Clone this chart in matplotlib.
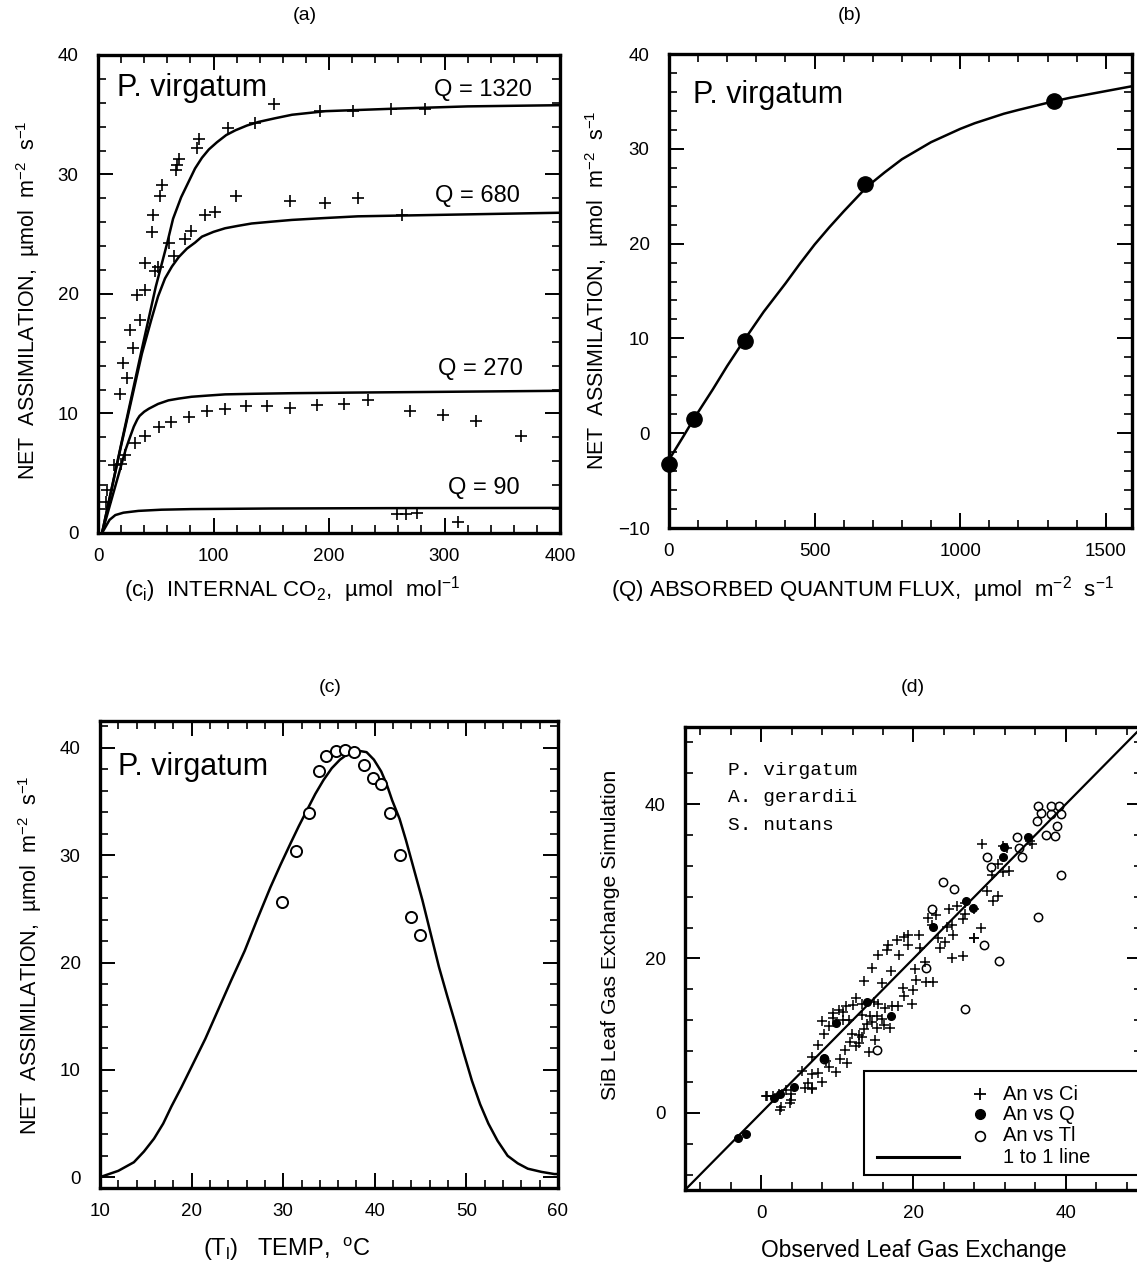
import matplotlib
matplotlib.use("Agg")
import matplotlib.pyplot as plt
from matplotlib.ticker import MultipleLocator
from matplotlib.patches import Rectangle
from matplotlib.lines import Line2D

plt.rcParams['font.family'] = ['Liberation Sans', 'DejaVu Sans']
plt.rcParams['mathtext.fontset'] = 'custom'
plt.rcParams['mathtext.rm'] = 'Liberation Sans'
plt.rcParams['mathtext.it'] = 'Liberation Sans:italic'
plt.rcParams['mathtext.bf'] = 'Liberation Sans:bold'

# ---------------- Panel (a): A vs internal CO2 ----------------
a_obs_ci = [152.7, 192.5, 220.5, 253.6, 283, 136, 112.4, 87.6, 85.9, 70.3,
            68, 67.4, 55.3, 53.6, 47.3, 46.7, 61.7, 65.4, 40.9, 49.6,
            52.0, 40.9, 33.7, 36.6, 27.4, 30, 21.3, 25.1, 19.3, 13.5,
            20.2, 7.8, 6.9,
            92.8, 101.4, 119.3, 166.3, 196.5, 224.8, 262.8, 80.7, 75.5,
            23.6, 31.7, 40.3, 52.4, 63.1, 78.4, 94.2, 110.1, 128, 146,
            166.6, 189.6, 213.3, 234, 270, 298.8, 327.7, 366.6,
            258.5, 266.3, 275.8, 311.8]
a_obs_A = [35.9, 35.3, 35.3, 35.5, 35.5, 34.3, 33.9, 33.0, 32.2, 31.3,
           30.8, 30.4, 29.1, 28.2, 26.6, 25.2, 24.3, 23.2, 22.6, 21.9,
           22.3, 20.3, 19.9, 17.8, 17.0, 15.5, 14.2, 13.0, 11.6, 5.7,
           5.8, 3.6, 2.6,
           26.6, 26.9, 28.2, 27.8, 27.6, 28.0, 26.6, 25.3, 24.6,
           6.5, 7.5, 8.1, 8.9, 9.3, 9.7, 10.2, 10.4, 10.6, 10.6,
           10.5, 10.7, 10.8, 11.1, 10.2, 9.9, 9.4, 8.1,
           1.6, 1.6, 1.65, 0.95]

ci_q1320 = [3.5, 20, 38, 50, 60, 65, 72, 78, 84, 90, 96, 103, 111, 119, 129, 139, 153, 168, 197, 254, 320, 400]
A_q1320 = [0, 7.4, 15.4, 20.6, 24.3, 26.3, 28.1, 29.3, 30.5, 31.4, 32.1, 32.7, 33.3, 33.7, 34.1, 34.4, 34.7, 35.0, 35.3, 35.5, 35.7, 35.8]
ci_q680 = [3.5, 20, 38, 46, 52, 58, 64, 70, 77, 84, 90, 100, 110, 121, 133, 150, 168, 195, 225, 283, 400]
A_q680 = [0, 7.3, 15.0, 17.8, 19.8, 21.3, 22.3, 23.1, 23.8, 24.3, 24.8, 25.2, 25.5, 25.7, 25.9, 26.05, 26.2, 26.35, 26.5, 26.6, 26.8]
ci_q270 = [3.5, 24, 28, 31, 34, 36, 40, 44, 52, 61, 70, 81, 95, 110, 135, 168, 220, 283, 400]
A_q270 = [0, 7.0, 8.1, 8.9, 9.5, 9.8, 10.15, 10.4, 10.8, 11.1, 11.25, 11.4, 11.5, 11.6, 11.65, 11.7, 11.75, 11.8, 11.9]
ci_q90 = [3.5, 10, 15, 22, 35, 55, 81, 150, 250, 400]
A_q90 = [0, 1.1, 1.5, 1.7, 1.85, 1.95, 2.0, 2.05, 2.08, 2.1]
q_labels = ["Q = 1320", "Q = 680", "Q = 270", "Q = 90"]

# ---------------- Panel (b): A vs absorbed quantum flux ----------------
b_obs_Q = [0, 87, 262, 672, 1322]
b_obs_A = [-3.3, 1.5, 9.7, 26.3, 35.0]
b_curve_Q = [0, 50, 87, 150, 200, 260, 325, 400, 450, 500, 550, 600, 640, 680, 740, 800,
             850, 900, 950, 1000, 1050, 1100, 1150, 1200, 1260, 1320, 1380, 1450, 1520, 1590]
b_curve_A = [-2.8, -0.3, 1.6, 4.6, 7.1, 9.9, 12.8, 15.8, 17.9, 19.9, 21.7, 23.4, 24.7, 26.0,
             27.5, 28.9, 29.8, 30.7, 31.4, 32.1, 32.7, 33.2, 33.7, 34.1, 34.55, 35.0, 35.4,
             35.8, 36.2, 36.6]

# ---------------- Panel (c): A vs leaf temperature ----------------
c_obs_T = [29.9, 31.4, 32.8, 33.9, 34.7, 35.8, 36.8, 37.7, 38.8, 39.8, 40.7, 41.7, 42.8, 43.9, 44.9]
c_obs_A = [25.6, 30.4, 33.9, 37.8, 39.2, 39.7, 39.8, 39.6, 38.4, 37.2, 36.6, 33.9, 30.0, 24.2, 22.6]
c_curve_T = [10.0, 10.3, 12.0, 13.7, 14.8, 15.9, 16.9, 17.8, 18.9, 20.0, 21.5, 22.9, 24.3, 25.8,
             27.2, 28.6, 29.7, 30.8, 31.7, 32.6, 33.5, 34.4, 35.3, 36.2, 37.0, 37.6, 38.4,
             39.1, 39.9, 40.7, 41.3, 41.9, 42.7, 43.4, 44.3, 45.2, 46.1, 47.0, 47.9, 48.8,
             49.7, 50.6, 51.5, 52.4, 53.4, 54.5, 55.6, 56.7, 58.2, 59.6, 60.0]
c_curve_A = [0.0, 0.1, 0.6, 1.4, 2.4, 3.6, 5.0, 6.6, 8.4, 10.3, 12.9, 15.6, 18.3, 21.1,
             24.1, 27.0, 29.1, 31.1, 32.7, 34.2, 35.7, 37.0, 38.1, 38.9, 39.4, 39.6, 39.7,
             39.6, 38.9, 37.8, 36.6, 35.1, 33.4, 31.4, 28.6, 25.8, 22.7, 19.6, 16.9, 14.3,
             11.6, 9.0, 6.8, 5.0, 3.4, 2.0, 1.3, 0.8, 0.5, 0.3, 0.3]

# ---------------- Panel (d): simulated vs observed ----------------
d_ci_obs = [24.6, 25.7, 26.7, 26.7, 26.5, 28.0, 21.9, 23.0, 22.4, 24.4,
            25.1, 25.2, 23.2, 24.1, 23.5, 20.9, 19.3, 18.8, 17.8, 20.7,
            19.3, 16.7, 16.5, 15.4, 18.1, 14.6, 17.0, 20.2, 21.5, 20.3,
            21.7, 22.6, 18.6, 20.0, 18.8, 19.8, 25.0, 26.5, 28.0, 13.5,
            15.9, 12.4, 12.0, 11.1, 13.3, 14.8, 15.4, 16.3, 17.2, 18.0,
            10.2, 10.7, 9.4, 9.4, 8.0, 8.9, 10.7, 11.5, 13.3, 14.3,
            13.9, 14.6, 15.2, 15.9, 16.1, 15.2, 16.9, 13.5, 12.8, 13.3,
            11.9, 11.7, 12.8, 14.9, 11.0, 12.4, 14.2, 8.2, 7.5, 6.7,
            10.4, 11.3, 8.9, 8.5, 9.8, 5.4, 6.7, 7.4, 8.0, 6.1,
            5.7, 6.7, 3.3, 3.9, 0.65, 1.5, 2.4,
            29.0, 31.7, 32.3, 35.6, 35.3, 31.1, 30.3, 31.8, 32.6, 29.6,
            31.1, 30.4, 28.9, 28.0, 0.8, 2.5, 2.6, 3.8, 3.9, 6.7]
d_ci_sim = [26.4, 26.8, 27.2, 25.8, 25.1, 26.4, 25.2, 25.7, 24.3, 24.1,
            24.4, 23.1, 22.6, 22.2, 21.4, 21.3, 23.0, 22.8, 22.4, 23.0,
            21.7, 21.7, 21.1, 20.4, 20.4, 18.8, 18.4, 18.6, 19.5, 17.2,
            17.0, 17.0, 16.2, 15.9, 15.2, 14.1, 20.0, 20.3, 22.7, 17.1,
            16.8, 14.9, 14.0, 13.9, 14.1, 14.3, 14.1, 13.6, 13.9, 13.9,
            13.3, 13.1, 13.0, 12.3, 11.9, 11.2, 12.0, 12.0, 12.7, 12.5,
            11.5, 11.8, 12.5, 12.2, 11.4, 11.0, 11.0, 10.8, 10.1, 9.8,
            10.2, 9.2, 9.0, 9.5, 8.2, 8.6, 7.9, 10.2, 8.8, 7.3,
            7.0, 6.5, 6.0, 6.7, 5.3, 5.4, 5.0, 5.2, 4.0, 3.9,
            3.2, 3.1, 3.0, 2.4, 2.15, 2.15, 2.4,
            34.8, 34.6, 34.3, 34.8, 35.2, 32.3, 30.8, 31.2, 31.4, 28.8,
            28.1, 27.4, 23.9, 22.7, 2.15, 0.4, 0.8, 1.3, 1.7, 3.2]
d_q_obs = [-3.1, -2.0, 1.7, 2.5, 4.3, 8.2, 9.8, 13.9, 17.0, 22.6, 26.9, 27.8, 31.8, 31.9, 35.0]
d_q_sim = [-3.3, -2.7, 1.9, 2.4, 3.4, 7.1, 11.6, 14.3, 12.6, 24.1, 27.5, 26.5, 33.2, 34.4, 35.7]
d_t_obs = [36.4, 36.7, 38.0, 39.1, 39.3, 38.0, 36.2, 38.8, 37.4, 38.6,
           33.6, 33.8, 34.3, 29.7, 30.2, 39.3, 23.9, 25.3, 22.4, 36.4,
           29.3, 31.2, 21.7, 26.7, 15.2, 8.2]
d_t_sim = [39.8, 38.9, 39.8, 39.8, 38.7, 38.7, 37.8, 37.2, 36.0, 35.9,
           35.8, 34.3, 33.1, 33.2, 31.8, 30.8, 29.9, 29.0, 26.4, 25.4,
           21.8, 19.7, 18.8, 13.5, 8.2, 7.0]
one_to_one = [-10, 50]
species = ["P. virgatum", "A. gerardii", "S. nutans"]
legend_labels = ["An vs Ci", "An vs Q", "An vs Tl", "1 to 1 line"]

W, H = 1137, 1263
fig = plt.figure(figsize=(W / 100, H / 100), dpi=100)


def px_axes(l, t, r, b):
    return fig.add_axes([l / W, 1 - b / H, (r - l) / W, (b - t) / H])


def style(ax, xmaj, xmin, ymaj, ymin, xpad=11, ypad=14):
    for s in ax.spines.values():
        s.set_linewidth(2.4)
    ax.xaxis.set_major_locator(MultipleLocator(xmaj))
    ax.xaxis.set_minor_locator(MultipleLocator(xmin))
    ax.yaxis.set_major_locator(MultipleLocator(ymaj))
    ax.yaxis.set_minor_locator(MultipleLocator(ymin))
    ax.tick_params(which='both', direction='in', top=True, right=True, labelsize=13.5)
    ax.tick_params(which='major', length=11, width=1.4)
    ax.tick_params(which='minor', length=5.5, width=1.2)
    ax.tick_params(axis='x', pad=xpad)
    ax.tick_params(axis='y', pad=ypad)


ylab = "NET  ASSIMILATION,  µmol  m$^{-2}$  s$^{-1}$"
line_kw = dict(color='black', lw=1.8)

# (a)
axa = px_axes(98, 55, 560, 533)
axa.plot(ci_q1320, A_q1320, **line_kw)
axa.plot(ci_q680, A_q680, **line_kw)
axa.plot(ci_q270, A_q270, **line_kw)
axa.plot(ci_q90, A_q90, **line_kw)
axa.plot(a_obs_ci, a_obs_A, ls='none', marker='+', ms=9, mew=1.2, color='black')
axa.set_xlim(0, 400)
axa.set_ylim(0, 40)
style(axa, 100, 20, 10, 2)
axa.text(0.041, 0.931, "P. virgatum", transform=axa.transAxes, fontsize=22, va='center')
for lab, (xx, yy) in zip(q_labels, [(0.939, 0.927), (0.913, 0.706), (0.92, 0.344), (0.913, 0.094)]):
    axa.text(xx, yy, lab, transform=axa.transAxes, fontsize=17, ha='right', va='center')

# (b)
axb = px_axes(669, 54, 1132, 528)
axb.plot(b_curve_Q, b_curve_A, **line_kw)
axb.plot(b_obs_Q, b_obs_A, ls='none', marker='o', ms=11, color='black', clip_on=False)
axb.set_xlim(0, 1590)
axb.set_ylim(-10, 40)
style(axb, 500, 100, 10, 2)
axb.text(0.052, 0.913, "P. virgatum", transform=axb.transAxes, fontsize=22, va='center')

# (c)
axc = px_axes(100, 721, 558, 1188)
axc.plot(c_curve_T, c_curve_A, **line_kw)
axc.plot(c_obs_T, c_obs_A, ls='none', marker='o', ms=8, mfc='white', mec='black', mew=1.4)
axc.set_xlim(10, 60)
axc.set_ylim(-1, 42.5)
style(axc, 10, 2, 10, 2)
axc.text(0.039, 0.901, "P. virgatum", transform=axc.transAxes, fontsize=22, va='center')

# (d)
axd = px_axes(685, 727, 1142, 1190)
axd.plot(one_to_one, one_to_one, color='black', lw=1.6)
axd.plot(d_ci_obs, d_ci_sim, ls='none', marker='+', ms=7, mew=1.1, color='black')
axd.plot(d_q_obs, d_q_sim, ls='none', marker='o', ms=5.5, color='black')
axd.plot(d_t_obs, d_t_sim, ls='none', marker='o', ms=6, mfc='none', mec='black', mew=1.1)
axd.set_xlim(-10, 50)
axd.set_ylim(-10, 50)
style(axd, 20, 4, 20, 4)
for i, sp in enumerate(species):
    axd.text(0.094, 0.907 - 0.06 * i, sp, transform=axd.transAxes,
             fontsize=14, family='Liberation Mono', va='center')
# legend box (drawn manually, extends past the right edge like the original)
axd.add_patch(Rectangle((0.392, 0.032), 0.7, 0.225, transform=axd.transAxes,
                        facecolor='white', edgecolor='black', lw=1.5, clip_on=False, zorder=5))
rows = [0.207, 0.164, 0.117, 0.071]
axd.plot([0.646], [rows[0]], transform=axd.transAxes, marker='+', ms=9, mew=1.3,
         color='black', zorder=6, clip_on=False)
axd.plot([0.646], [rows[1]], transform=axd.transAxes, marker='o', ms=7,
         color='black', zorder=6, clip_on=False)
axd.plot([0.646], [rows[2]], transform=axd.transAxes, marker='o', ms=7, mfc='white',
         mec='black', mew=1.2, zorder=6, clip_on=False)
axd.add_line(Line2D([0.42, 0.60], [rows[3], rows[3]], transform=axd.transAxes,
                    color='black', lw=2.2, zorder=6, clip_on=False))
for lab, yy in zip(legend_labels, rows):
    axd.text(0.696, yy, lab, transform=axd.transAxes, fontsize=14.5, va='center', zorder=7)

# panel letters
for lab, (x, y) in zip(["(a)", "(b)", "(c)", "(d)"], [(305, 15), (850, 15), (330, 688), (913, 688)]):
    fig.text(x / W, 1 - y / H, lab, ha='center', va='center', fontsize=14)

# axis labels
fig.text(28 / W, 1 - 300 / H, ylab, rotation=90, ha='center', va='center', fontsize=15.5)
fig.text(597 / W, 1 - 290 / H, ylab, rotation=90, ha='center', va='center', fontsize=15.5)
fig.text(30 / W, 1 - 955 / H, ylab, rotation=90, ha='center', va='center', fontsize=15.5)
fig.text(610 / W, 1 - 935 / H, "SiB Leaf Gas Exchange Simulation", rotation=90,
         ha='center', va='center', fontsize=15.3)
fig.text(292 / W, 1 - 590 / H, "(c$_\\mathrm{i}$)  INTERNAL CO$_2$,  µmol  mol$^{-1}$",
         ha='center', va='center', fontsize=16)
fig.text(862 / W, 1 - 590 / H, "(Q) ABSORBED QUANTUM FLUX,  µmol  m$^{-2}$  s$^{-1}$",
         ha='center', va='center', fontsize=16)
fig.text(287 / W, 1 - 1249 / H, "(T$_\\mathrm{l}$)   TEMP,  $^\\mathrm{o}$C",
         ha='center', va='center', fontsize=17)
fig.text(914 / W, 1 - 1250 / H, "Observed Leaf Gas Exchange",
         ha='center', va='center', fontsize=16.4)

fig.savefig("out.png", dpi=100)
